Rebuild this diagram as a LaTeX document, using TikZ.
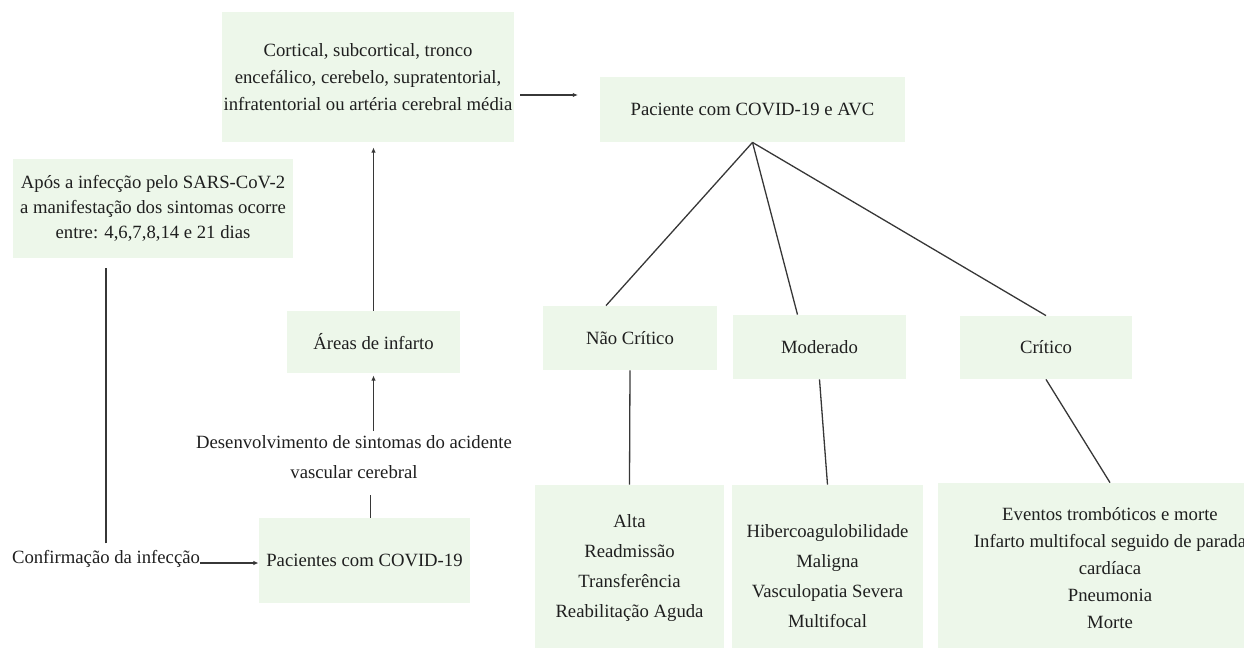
\documentclass[tikz,border=0pt]{standalone}
\usepackage{fontspec}
\setmainfont{Liberation Serif}
\usetikzlibrary{positioning, arrows.meta, calc}
\definecolor{boxgreen}{RGB}{237,247,234}
\definecolor{linegray}{RGB}{55,55,55}

\begin{document}
\begin{tikzpicture}[
  x=0.5pt, y=-0.5pt,
  >={Latex[length=2.6pt,width=2.2pt]},
  box/.style={fill=boxgreen, align=center, inner sep=0pt, text=black!88,
              font=\fontsize{9.35}{13.5}\selectfont},
  txt/.style={align=center, inner sep=0pt, text=black!88,
              font=\fontsize{9.35}{13.5}\selectfont},
  wide/.style={font=\fontsize{9.35}{15}\selectfont},
  ln/.style={draw=linegray, line width=0.65pt},
  ar/.style={->, draw=linegray, line width=0.65pt},
]
\useasboundingbox (0,0) rectangle (1244,648);

% ===================== left chain =====================
\node[box, minimum width=146pt, minimum height=65pt] (areasList) at (368,77)
  {Cortical, subcortical, tronco\\encefálico, cerebelo, supratentorial,\\infratentorial ou artéria cerebral média};
\node[box, minimum width=140pt, minimum height=49.5pt, font=\fontsize{9.35}{12.5}\selectfont] (onset) at (153,208.5)
  {Após a infecção pelo SARS-CoV-2\\a manifestação dos sintomas ocorre\\entre: 4,6,7,8,14 e 21 dias};
\node[box, minimum width=86.5pt, minimum height=31pt] (infarct) at (373.5,342) {Áreas de infarto};
\node[txt, wide] (symptoms) at (354,457) {Desenvolvimento de sintomas do acidente\\vascular cerebral};
\node[box, minimum width=105.5pt, minimum height=42.5pt] (patients) at (364.5,560.5) {Pacientes com COVID-19};
\node[txt, anchor=base] (confirm) at (106,563) {Confirmação da infecção};

\draw[ln, shorten <=3pt, shorten >=5pt] (confirm.north) -- (confirm.north |- onset.south);
\draw[ar] (confirm.base east) -- (confirm.base east -| patients.west);
\draw[ln, shorten >=8pt] ([xshift=3pt]patients.north) -- ([xshift=3pt]patients.north |- symptoms.south);
\draw[ar, shorten <=2pt, shorten >=1pt] (infarct.south |- symptoms.north) -- (infarct.south);
\draw[ar, shorten >=2.5pt] (infarct.north) -- (infarct.north |- areasList.south);

% ===================== right tree =====================
\node[box, minimum width=152.5pt, minimum height=32.5pt] (stroke) at (752.5,109.5) {Paciente com COVID-19 e AVC};
\coordinate (tipB) at (578,95);
\draw[ar, shorten <=3pt] (areasList.east |- tipB) -- (tipB);

\node[box, minimum width=87pt, minimum height=32pt] (mild) at (630,338) {Não Crítico};
\node[box, minimum width=86.5pt, minimum height=32pt] (moderate) at (819.5,347) {Moderado};
\node[box, minimum width=86pt, minimum height=31.5pt] (critical) at (1046,347.5) {Crítico};

\node[box, wide, minimum width=94.5pt, minimum height=83pt] (mildOut) at (629.5,568)
  {Alta\\Readmissão\\Transferência\\Reabilitação Aguda};
\node[box, wide, minimum width=95.5pt, minimum height=91.5pt] (moderateOut) at (827.5,576.5)
  {Hibercoagulobilidade\\Maligna\\Vasculopatia Severa\\Multifocal};
\node[box, minimum width=172pt, minimum height=85pt] (criticalOut) at (1110,568)
  {Eventos trombóticos e morte\\Infarto multifocal seguido de parada\\cardíaca\\Pneumonia\\Morte};

\draw[ln] (stroke.south) -- ([xshift=-12pt]mild.north);
\draw[ln] (stroke.south) -- ([xshift=-11pt]moderate.north);
\draw[ln] (stroke.south) -- (critical.north);
\draw[ln] (mild.south) -- (mildOut.north);
\draw[ln] (moderate.south) -- (moderateOut.north);
\draw[ln] (critical.south) -- (criticalOut.north);
\end{tikzpicture}
\end{document}
